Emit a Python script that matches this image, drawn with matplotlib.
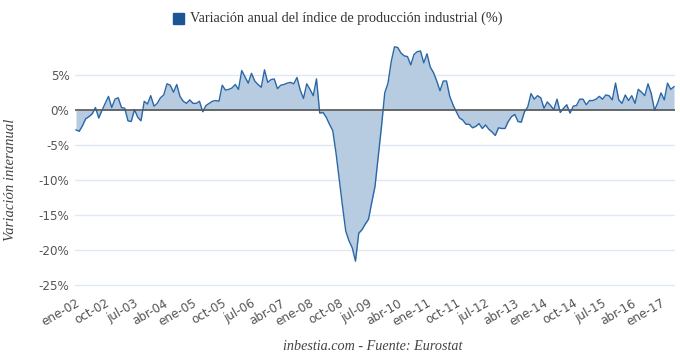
import matplotlib
matplotlib.use("Agg")
import matplotlib.pyplot as plt
from matplotlib import font_manager as fm
import numpy as np

# Monthly YoY change of industrial production index (%), Jan 2002 onward
v2002 = [-2.8, -3.0, -2.2, -1.2, -0.9, -0.5, 0.4, -1.1, 0.0, 1.0, 2.0, 0.4]
v2003 = [1.6, 1.8, 0.4, 0.3, -1.5, -1.6, 0.1, -1.0, -1.5, 1.3, 0.9, 2.1]
v2004 = [0.6, 1.0, 1.8, 2.2, 3.8, 3.6, 2.6, 3.7, 2.0, 1.3, 1.0, 1.5]
v2005 = [1.0, 1.0, 1.3, -0.2, 0.7, 1.0, 1.3, 1.4, 1.3, 3.6, 2.9, 3.0]
v2006 = [3.2, 3.7, 3.0, 5.7, 4.8, 3.9, 5.3, 4.2, 3.7, 3.3, 5.8, 4.0]
v2007 = [4.4, 4.5, 3.1, 3.6, 3.7, 3.9, 4.0, 3.8, 4.7, 2.9, 1.7, 3.8]
v2008 = [3.0, 2.1, 4.5, -0.4, -0.3, -1.0, -2.0, -2.9, -6.1, -9.9, -13.7, -17.3]
v2009 = [-18.7, -19.7, -21.6, -17.6, -17.1, -16.3, -15.6, -13.2, -10.9, -6.6, -2.3, 2.5]
v2010 = [3.9, 7.0, 9.1, 9.0, 8.2, 7.8, 7.7, 6.5, 8.0, 8.4, 8.5, 6.8]
v2011 = [8.1, 6.2, 5.4, 4.2, 2.8, 4.2, 4.2, 2.0, 0.8, -0.2, -1.1, -1.4]
v2012 = [-2.0, -2.0, -2.5, -2.3, -1.9, -2.6, -2.1, -2.7, -3.1, -3.6, -2.5, -2.6]
v2013 = [-2.6, -1.6, -0.9, -0.6, -1.6, -1.7, -0.2, 0.5, 2.4, 1.6, 2.1, 1.8]
v2014 = [0.3, 1.2, 0.7, 0.1, 1.6, -0.3, 0.3, 0.8, -0.4, 0.6, 0.7, 1.6]
v2015 = [1.6, 0.8, 1.4, 1.4, 1.6, 2.0, 1.6, 2.2, 2.1, 1.5, 3.9, 1.5]
v2016 = [1.0, 2.2, 1.4, 2.1, 1.0, 3.0, 2.6, 2.1, 3.8, 2.4, 0.0, 1.1]
v2017 = [2.5, 1.5, 3.9, 3.0, 3.4]

values = (v2002 + v2003 + v2004 + v2005 + v2006 + v2007 + v2008 + v2009 +
          v2010 + v2011 + v2012 + v2013 + v2014 + v2015 + v2016 + v2017)

tick_labels = ["ene-02", "oct-02", "jul-03", "abr-04", "ene-05", "oct-05", "jul-06",
               "abr-07", "ene-08", "oct-08", "jul-09", "abr-10", "ene-11", "oct-11",
               "jul-12", "abr-13", "ene-14", "oct-14", "jul-15", "abr-16", "ene-17"]
ytick_vals = [5, 0, -5, -10, -15, -20, -25]

names = {f.name for f in fm.fontManager.ttflist}
if "Liberation Sans Narrow" in names:
    tick_font = dict(fontfamily="Liberation Sans Narrow")
else:
    tick_font = dict(fontfamily="DejaVu Sans", fontstretch="condensed")
serif = "Liberation Serif"

x = np.arange(len(values))
y = np.array(values)

fig = plt.figure(figsize=(6.8, 3.56), dpi=100)
ax = fig.add_axes([75/680, 1-287/356, 600/680, (287-44)/356])

line_c = "#2a67a6"
fill_c = "#b7cbe1"
ax.fill_between(x, y, 0, color=fill_c, linewidth=0, zorder=2)
ax.plot(x, y, color=line_c, linewidth=1.0, zorder=3)
ax.axhline(0, color="#555555", linewidth=1.2, zorder=4)

ax.set_xlim(-0.3, len(values) - 0.7)
ax.set_ylim(-25.3, 9.5)
ax.set_yticks(ytick_vals)
ax.set_yticklabels([f"{v}%" for v in ytick_vals], fontsize=9.5, color="#555555", **tick_font)
for v in ytick_vals:
    if v != 0:
        ax.axhline(v, color="#dfe9f5", linewidth=1.0, zorder=1)

tick_pos = np.arange(0, 9 * len(tick_labels), 9)
ax.set_xticks(tick_pos)
ax.set_xticklabels(tick_labels, rotation=30, ha="right", rotation_mode="anchor",
                   fontsize=9.5, color="#555555", **tick_font)
ax.tick_params(axis="both", length=0, pad=4)
ax.tick_params(axis="x", pad=7)
for s in ax.spines.values():
    s.set_visible(False)

ax.set_ylabel("Variación interanual", fontfamily=serif, fontstyle="italic",
              fontsize=10.5, color="#444444")
ax.yaxis.set_label_coords(-0.097, 0.44)

# legend
fig.patches.append(plt.Rectangle((173/680, 1-24/356), 11/680, 11/356,
                                 transform=fig.transFigure, color="#1b5596"))
fig.text(190/680, 1-18.5/356, "Variación anual del índice de producción industrial (%)",
         fontfamily=serif, fontsize=10.2, color="#333333", va="center", ha="left")
fig.text(373/680, 1-347/356, "inbestia.com - Fuente: Eurostat",
         fontfamily=serif, fontstyle="italic", fontsize=10.2, color="#444444",
         va="center", ha="center")

fig.savefig("out.png", dpi=100)
